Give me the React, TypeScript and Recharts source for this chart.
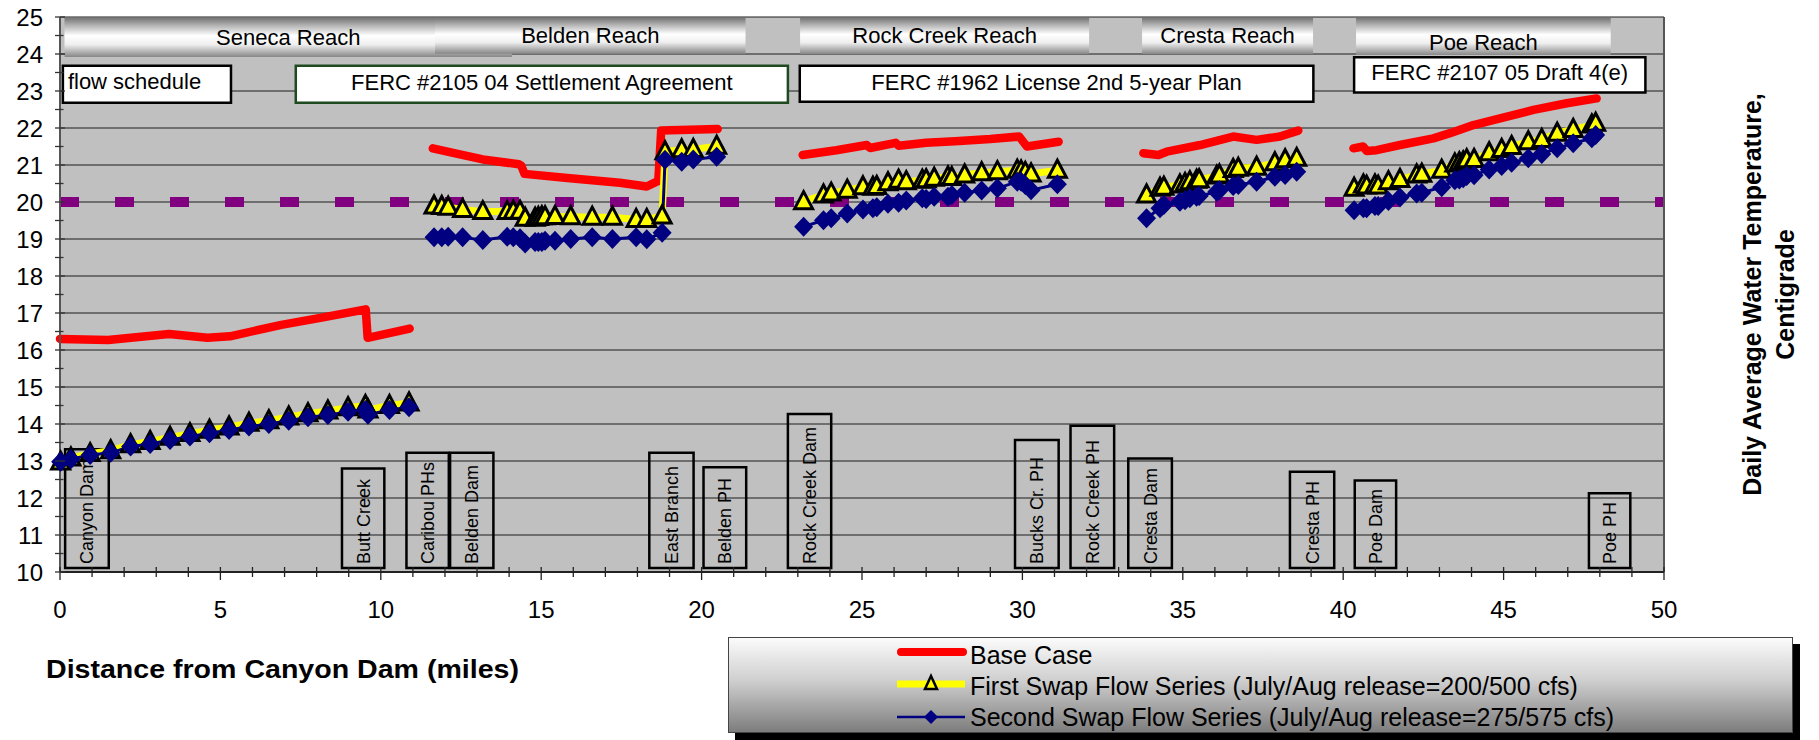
import React from 'react'
import { LineChart, Line, XAxis, YAxis, CartesianGrid, ReferenceArea, ReferenceLine, Legend } from 'recharts'

const FONT = '"Liberation Sans", Arial, Helvetica, sans-serif'

// river miles of the model nodes for the two swap runs (null value = gap between reaches)
const swapMiles = [
  0.02, 0.34, 0.94, 1.58, 2.2, 2.81, 3.43, 4.05, 4.66, 5.27, 5.89, 6.51, 7.13, 7.73, 8.35, 8.98, 9.52, 9.6, 10.27, 10.88,
  11.2,
  11.66, 11.9, 12.1, 12.55, 13.18, 13.94, 14.13, 14.34, 14.5, 14.81, 14.91, 15.02, 15.12, 15.43, 15.92, 16.59, 17.22, 17.96, 18.29, 18.77, 18.86, 19.38, 19.74, 20.47,
  21.8,
  23.18, 23.8, 24.04, 24.54, 25.03, 25.34, 25.46, 25.81, 26.14, 26.38, 26.88, 27.0, 27.25, 27.68, 27.8, 28.2, 28.73, 29.22, 29.84, 29.96, 30.09, 30.27, 31.09,
  32.5,
  33.87, 34.29, 34.41, 34.91, 35.07, 35.22, 35.43, 35.51, 36.06, 36.14, 36.57, 36.73, 37.3, 37.87, 38.19, 38.55,
  39.5,
  40.34, 40.63, 40.73, 40.99, 41.09, 41.41, 41.77, 42.29, 42.45, 43.07, 43.48, 43.62, 43.74, 43.85, 44.08, 44.55, 44.94, 45.25, 45.77, 46.19, 46.67, 47.17, 47.75, 47.87,
]

const firstSwap = [
  12.97, 13.08, 13.2, 13.28, 13.44, 13.53, 13.64, 13.74, 13.83, 13.92, 14.02, 14.09, 14.19, 14.28, 14.35, 14.44, 14.5, 14.38, 14.5, 14.57,
  null,
  19.89, 19.88, 19.86, 19.8, 19.74, 19.74, 19.75, 19.75, 19.56, 19.56, 19.58, 19.6, 19.6, 19.61, 19.6, 19.59, 19.59, 19.53, 19.53, 19.62, 21.36, 21.41, 21.42, 21.51,
  null,
  20.01, 20.19, 20.24, 20.32, 20.41, 20.4, 20.42, 20.52, 20.59, 20.55, 20.59, 20.6, 20.64, 20.68, 20.66, 20.73, 20.79, 20.82, 20.86, 20.84, 20.8, 20.76, 20.86,
  null,
  20.19, 20.37, 20.4, 20.46, 20.5, 20.55, 20.59, 20.6, 20.7, 20.73, 20.88, 20.91, 20.94, 21.06, 21.14, 21.18,
  null,
  20.37, 20.46, 20.43, 20.46, 20.43, 20.55, 20.61, 20.73, 20.75, 20.86, 21.03, 21.06, 21.08, 21.14, 21.15, 21.33, 21.42, 21.5, 21.63, 21.69, 21.86, 21.96, 22.08, 22.13,
]

const secondSwap = [
  12.98, 13.05, 13.16, 13.22, 13.39, 13.46, 13.57, 13.66, 13.75, 13.84, 13.93, 14.0, 14.09, 14.18, 14.24, 14.33, 14.38, 14.25, 14.38, 14.45,
  null,
  19.05, 19.05, 19.06, 19.05, 18.97, 19.06, 19.05, 19.02, 18.88, 18.92, 18.92, 18.92, 18.95, 18.95, 19.0, 19.05, 19.0, 19.05, 18.99, 19.17, 21.14, 21.09, 21.15, 21.22,
  null,
  19.33, 19.51, 19.56, 19.69, 19.8, 19.83, 19.86, 19.95, 19.98, 20.04, 20.1, 20.08, 20.14, 20.14, 20.19, 20.25, 20.31, 20.37, 20.55, 20.55, 20.46, 20.32, 20.48,
  null,
  19.56, 19.83, 19.92, 20.01, 20.05, 20.1, 20.14, 20.16, 20.28, 20.32, 20.43, 20.46, 20.55, 20.68, 20.73, 20.82,
  null,
  19.78, 19.83, 19.83, 19.89, 19.89, 20.03, 20.12, 20.23, 20.25, 20.4, 20.59, 20.61, 20.64, 20.7, 20.72, 20.88, 20.97, 21.06, 21.18, 21.3, 21.45, 21.59, 21.72, 21.81,
]

// base case is traced as a line only
const baseMiles = [
  0, 1.5, 3.4, 4.6, 5.3, 6.9, 8.2, 9.53, 9.59, 10.9,
  11.2,
  11.62, 12.5, 13.18, 14.3, 14.38, 14.48, 15.9, 17.45, 18.29, 18.65, 18.74, 20.5,
  21.8,
  23.15, 24.2, 25.15, 25.25, 26.05, 26.15, 27.0, 27.9, 29.0, 29.9, 30.14, 31.13,
  32.5,
  33.77, 34.24, 34.5, 35.54, 36.57, 37.3, 38.03, 38.6,
  39.5,
  40.32, 40.62, 40.73, 41.04, 41.77, 42.81, 43.33, 44.06, 44.89, 45.93, 46.97, 47.9,
]

const baseCase = [
  16.3, 16.27, 16.43, 16.33, 16.37, 16.68, 16.88, 17.1, 16.33, 16.58,
  null,
  21.45, 21.28, 21.15, 21.02, 20.98, 20.76, 20.64, 20.52, 20.42, 20.57, 21.93, 21.97,
  null,
  21.27, 21.4, 21.54, 21.46, 21.6, 21.52, 21.6, 21.64, 21.7, 21.77, 21.5, 21.63,
  null,
  21.32, 21.27, 21.36, 21.54, 21.77, 21.68, 21.77, 21.93,
  null,
  21.45, 21.5, 21.38, 21.4, 21.54, 21.72, 21.86, 22.08, 22.26, 22.49, 22.67, 22.8,
]

const SERIES_NAMES = [
  'Base Case',
  'First Swap Flow Series (July/Aug release=200/500 cfs)',
  'Second Swap Flow Series (July/Aug release=275/575 cfs)',
]

const yLabels = [10, 11, 12, 13, 14, 15, 16, 17, 18, 19, 20, 21, 22, 23, 24, 25]
const yTicks = yLabels.flatMap((v) => (v < 25 ? [v, v + 0.5] : [v]))
const xTicks = Array.from({ length: 51 }, (_, i) => i)

// reach banners along the top
const reaches = [
  { name: 'Seneca Reach', x1: 0.14, x2: 14.09, y1: 23.92, dy: 27 },
  { name: 'Belden Reach', x1: 11.69, x2: 21.37, y1: 24.01, dy: 25 },
  { name: 'Rock Creek Reach', x1: 23.07, x2: 32.08, y1: 24.0, dy: 24.5 },
  { name: 'Cresta Reach', x1: 33.73, x2: 39.06, y1: 24.0, dy: 24.5 },
  { name: 'Poe Reach', x1: 40.4, x2: 48.34, y1: 23.97, dy: 32 },
]

// flow schedule boxes
const schedules = [
  { name: 'flow schedule', x1: 0.09, x2: 5.33, y1: 22.68, y2: 23.68, left: true, stroke: '#000', dy: 23.5 },
  { name: 'FERC #2105 04 Settlement Agreement', x1: 7.35, x2: 22.69, y1: 22.68, y2: 23.68, stroke: '#1f4a1f', dy: 24 },
  { name: 'FERC #1962 License 2nd 5-year Plan', x1: 23.06, x2: 39.07, y1: 22.71, y2: 23.68, stroke: '#000', dy: 24 },
  { name: 'FERC #2107 05 Draft 4(e)', x1: 40.34, x2: 49.42, y1: 22.96, y2: 23.91, stroke: '#000', dy: 23 },
]

// landmarks along the river
const sites = [
  { name: 'Canyon Dam', x1: 0.16, x2: 1.52, top: 13.32 },
  { name: 'Butt Creek', x1: 8.79, x2: 10.11, top: 12.8 },
  { name: 'Caribou PHs', x1: 10.8, x2: 12.12, top: 13.22 },
  { name: 'Belden Dam', x1: 12.16, x2: 13.51, top: 13.22 },
  { name: 'East Branch', x1: 18.37, x2: 19.75, top: 13.22 },
  { name: 'Belden PH', x1: 20.06, x2: 21.39, top: 12.83 },
  { name: 'Rock Creek Dam', x1: 22.69, x2: 24.04, top: 14.27 },
  { name: 'Bucks Cr. PH', x1: 29.77, x2: 31.13, top: 13.57 },
  { name: 'Rock Creek PH', x1: 31.5, x2: 32.86, top: 13.95 },
  { name: 'Cresta Dam', x1: 33.3, x2: 34.66, top: 13.07 },
  { name: 'Cresta PH', x1: 38.34, x2: 39.72, top: 12.71 },
  { name: 'Poe Dam', x1: 40.36, x2: 41.65, top: 12.47 },
  { name: 'Poe PH', x1: 47.66, x2: 48.95, top: 12.13 },
]

const swapRows = swapMiles.map((x, i) => ({ x, first: firstSwap[i], second: secondSwap[i] }))
const baseRows = baseMiles.map((x, i) => ({ x, base: baseCase[i] }))

const Triangle = (p: any) => {
  const { cx, cy, index } = p
  if (cx == null || cy == null || p.value == null) return <g key={`t${index}`} />
  return (
    <path
      key={`t${index}`}
      d={`M${cx},${cy - 10}L${cx + 9},${cy + 7}L${cx - 9},${cy + 7}Z`}
      fill="#ffff00"
      stroke="#000"
      strokeWidth={3}
    />
  )
}

const Diamond = (p: any) => {
  const { cx, cy, index } = p
  if (cx == null || cy == null || p.value == null) return <g key={`d${index}`} />
  return <path key={`d${index}`} d={`M${cx},${cy - 10}L${cx + 9.5},${cy}L${cx},${cy + 10}L${cx - 9.5},${cy}Z`} fill="#000080" />
}

const LeftTick = (p: any) => {
  const { x, y, payload } = p
  const major = Number.isInteger(payload.value)
  return (
    <g>
      <line x1={x - 5} x2={x + (major ? 5 : 3.5)} y1={y} y2={y} stroke="#333" strokeWidth={1.3} />
      {major && (
        <text x={x - 17} y={y + 8.5} textAnchor="end" fontSize={24} fontFamily={FONT} fill="#000">
          {payload.value}
        </text>
      )}
    </g>
  )
}

const RightTick = (p: any) => {
  const { x, y, payload } = p
  const major = Number.isInteger(payload.value)
  return (
    <g>
      <line x1={x - 2} x2={x + (major ? 7 : 5)} y1={y} y2={y} stroke="#333" strokeWidth={1.3} />
      {major && (
        <text x={x + 14} y={y + 6} textAnchor="start" fontSize={16} fontFamily={FONT} fill="#000">
          {payload.value}
        </text>
      )}
    </g>
  )
}

const BottomTick = (p: any) => {
  const { x, y, payload } = p
  const major = payload.value % 5 === 0
  return (
    <g>
      <line x1={x} x2={x} y1={y - 5} y2={y + (major ? 8 : 5)} stroke="#222" strokeWidth={1.3} />
      {major && (
        <text x={x} y={y + 46} textAnchor="middle" fontSize={24} fontFamily={FONT} fill="#000">
          {payload.value}
        </text>
      )}
    </g>
  )
}

const reachLabel = (name: string, dy: number) => (props: any) => {
  const vb = props.viewBox
  return (
    <text x={vb.x + vb.width / 2} y={vb.y + dy} textAnchor="middle" fontSize={22} fontFamily={FONT} fill="#000">
      {name}
    </text>
  )
}

const scheduleLabel = (name: string, dy: number, left?: boolean) => (props: any) => {
  const vb = props.viewBox
  return (
    <text
      x={left ? vb.x + 5 : vb.x + vb.width / 2}
      y={vb.y + dy}
      textAnchor={left ? 'start' : 'middle'}
      fontSize={22}
      fontFamily={FONT}
      fill="#000"
    >
      {name}
    </text>
  )
}

const siteLabel = (name: string) => (props: any) => {
  const vb = props.viewBox
  const tx = vb.x + vb.width / 2 + 6.5
  const ty = vb.y + vb.height - 4
  return (
    <text x={tx} y={ty} transform={`rotate(-90 ${tx} ${ty})`} textAnchor="start" fontSize={18} fontFamily={FONT} fill="#000">
      {name}
    </text>
  )
}

const xTitle = (props: any) => {
  const vb = props.viewBox
  return (
    <text x={vb.x - 14} y={vb.y + 106} fontSize={26} fontWeight="bold" fontFamily={FONT} textLength={473} lengthAdjust="spacingAndGlyphs" fill="#000">
      Distance from Canyon Dam (miles)
    </text>
  )
}

const yTitle = (props: any) => {
  const vb = props.viewBox
  const cy = vb.y + vb.height / 2
  const x1 = vb.x + 97
  const x2 = vb.x + 130
  return (
    <g fontSize={25} fontWeight="bold" fontFamily={FONT} fill="#000" textAnchor="middle">
      <text x={x1} y={cy} transform={`rotate(-90 ${x1} ${cy})`}>Daily Average Water Temperature,</text>
      <text x={x2} y={cy} transform={`rotate(-90 ${x2} ${cy})`}>Centigrade</text>
    </g>
  )
}

const LegendBox = () => (
  <div
    style={{
      width: 1065,
      height: 96,
      boxSizing: 'border-box',
      border: '1.5px solid #444',
      background: 'linear-gradient(#fbfbfb, #cfcfcf 45%, #7d7d7d)',
      boxShadow: '7px 7px 0 #000',
      position: 'relative',
    }}
  >
    <svg width={1065} height={96} style={{ position: 'absolute', left: 0, top: 0 }}>
      <line x1={172} x2={234} y1={14} y2={14} stroke="#ff0000" strokeWidth={8} strokeLinecap="round" />
      <line x1={168} x2={236} y1={46} y2={46} stroke="#ffff00" strokeWidth={7} />
      <path d="M202,38L208,51L196,51Z" fill="#ffff00" stroke="#000" strokeWidth={2.5} />
      <line x1={168} x2={236} y1={79} y2={79} stroke="#000080" strokeWidth={2.5} />
      <path d="M202,72L209,79L202,86L195,79Z" fill="#000080" />
      {SERIES_NAMES.map((n, i) => (
        <text key={n} x={241} y={[26, 57, 88][i]} fontSize={25} fontFamily={FONT} fill="#000">
          {n}
        </text>
      ))}
    </svg>
  </div>
)

export default function App() {
  return (
    <div style={{ position: 'absolute', left: 0, top: 0, width: 1819, height: 740, background: '#fff', fontFamily: FONT }}>
      <LineChart width={1819} height={740} margin={{ top: 17, right: 95, left: 10, bottom: 128 }}>
        <defs>
          <linearGradient id="reachFill" x1="0" y1="0" x2="0" y2="1">
            <stop offset="0%" stopColor="#777777" />
            <stop offset="18%" stopColor="#b0b0b0" />
            <stop offset="45%" stopColor="#ffffff" />
            <stop offset="68%" stopColor="#efefef" />
            <stop offset="100%" stopColor="#878787" />
          </linearGradient>
        </defs>
        <CartesianGrid vertical={false} horizontalValues={yLabels} stroke="#1c1c1c" strokeWidth={1.2} fill="#c0c0c0" fillOpacity={1} />
        <XAxis
          type="number"
          dataKey="x"
          domain={[0, 50]}
          ticks={xTicks}
          interval={0}
          height={40}
          tickSize={0}
          tickMargin={0}
          tickLine={false}
          tick={BottomTick}
          axisLine={{ stroke: '#222', strokeWidth: 2 }}
          allowDuplicatedCategory={false}
          label={{ content: xTitle }}
        />
        <YAxis
          type="number"
          domain={[10, 25]}
          ticks={yTicks}
          interval={0}
          width={50}
          tickSize={0}
          tickMargin={0}
          tickLine={false}
          tick={LeftTick}
          axisLine={{ stroke: '#555', strokeWidth: 2 }}
        />
        <YAxis
          yAxisId="r"
          orientation="right"
          type="number"
          domain={[10, 25]}
          ticks={yTicks}
          interval={0}
          width={60}
          tickSize={0}
          tickMargin={0}
          tickLine={false}
          tick={RightTick}
          axisLine={{ stroke: '#555', strokeWidth: 2 }}
          label={{ content: yTitle }}
        />

        {reaches.map((r) => (
          <ReferenceArea
            key={r.name}
            x1={r.x1}
            x2={r.x2}
            y1={r.y1}
            y2={24.97}
            fill="url(#reachFill)"
            fillOpacity={1}
            stroke="none"
            label={reachLabel(r.name, r.dy)}
          />
        ))}
        {schedules.map((s) => (
          <ReferenceArea
            key={s.name}
            x1={s.x1}
            x2={s.x2}
            y1={s.y1}
            y2={s.y2}
            fill="#ffffff"
            fillOpacity={1}
            stroke={s.stroke}
            strokeWidth={2.5}
            label={scheduleLabel(s.name, s.dy, s.left)}
          />
        ))}
        {sites.map((s) => (
          <ReferenceArea
            key={s.name}
            x1={s.x1}
            x2={s.x2}
            y1={10.11}
            y2={s.top}
            fill="none"
            fillOpacity={0}
            stroke="#000"
            strokeWidth={2.5}
            label={siteLabel(s.name)}
          />
        ))}
        <ReferenceLine y={20} stroke="#800080" strokeWidth={10} strokeDasharray="19 36" />

        <Line
          data={baseRows}
          dataKey="base"
          name={SERIES_NAMES[0]}
          type="linear"
          stroke="#ff0000"
          strokeWidth={8.5}
          strokeLinecap="round"
          strokeLinejoin="round"
          dot={false}
          activeDot={false}
          isAnimationActive={false}
        />
        <Line
          data={swapRows}
          dataKey="first"
          name={SERIES_NAMES[1]}
          type="linear"
          stroke="#ffff00"
          strokeWidth={7}
          dot={Triangle}
          activeDot={false}
          isAnimationActive={false}
        />
        <Line
          data={swapRows}
          dataKey="second"
          name={SERIES_NAMES[2]}
          type="linear"
          stroke="#000080"
          strokeWidth={3}
          dot={Diamond}
          activeDot={false}
          isAnimationActive={false}
        />
        <Legend
          layout="horizontal"
          verticalAlign="middle"
          align="center"
          content={LegendBox}
          wrapperStyle={{ left: 728, top: 637, width: 1065, height: 96 }}
        />
      </LineChart>
    </div>
  )
}
